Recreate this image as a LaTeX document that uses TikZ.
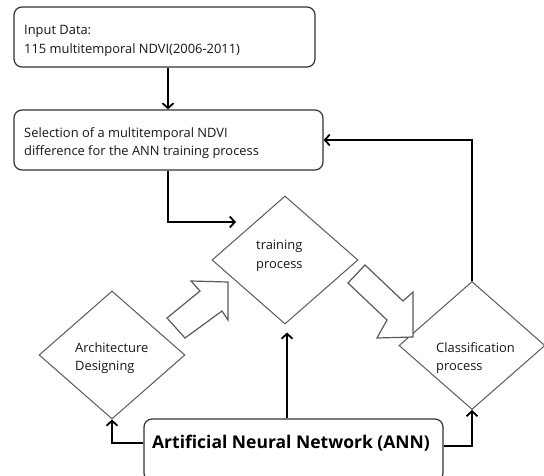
\documentclass[tikz,border=0pt]{standalone}
\usepackage{fontspec}
\setmainfont{Open Sans}
\usetikzlibrary{shapes.geometric,arrows.meta}
\definecolor{ink}{RGB}{22,22,36}
\definecolor{edge}{RGB}{50,50,50}
\definecolor{dedge}{RGB}{90,90,90}
\tikzset{
  box/.style={draw=edge, line width=1.2pt, rounded corners=8pt, fill=white, inner sep=0pt},
  dia/.style={diamond, draw=dedge, line width=1pt, minimum width=146pt, minimum height=128pt, inner sep=0pt},
  txt/.style={text=ink, anchor=west, align=left, inner sep=0pt, font=\fontsize{12.9}{18.5}\selectfont},
  bigtxt/.style={text=black, inner sep=0pt, font=\fontsize{17.5}{20}\selectfont\bfseries},
  conn/.style={draw=black, line width=2.2pt, -{Straight Barb[length=5pt,width=11pt,line width=1.8pt]}},
  blk/.style={draw=dedge, line width=1.2pt, fill=white, line join=miter}
}
\begin{document}
\begin{tikzpicture}[x=1pt,y=-1pt]
  \useasboundingbox (0,0) rectangle (544,475);
  \clip (0,0) rectangle (544,475);

  % rounded process boxes
  \node[box, minimum width=301pt, minimum height=60pt] (inp) at (164.5,37) {};
  \node[txt] (inptxt) at (24,41) {Input Data:\\115 multitemporal NDVI(2006-2011)};

  \node[box, minimum width=309pt, minimum height=60pt] (sel) at (168.5,140) {};
  \node[txt] (seltxt) at (24,143) {Selection of a multitemporal NDVI\\difference for the ANN training process};

  \node[box, minimum width=299pt, minimum height=62pt] (ann) at (293.5,450) {};
  \node[bigtxt] (anntxt) at (291,443) {Artificial Neural Network (ANN)};

  % decision diamonds
  \node[dia] (train) at (285,260) {};
  \node[txt] (traintxt) at (256,256) {training\\process};

  \node[dia] (arch) at (112,355) {};
  \node[txt] (archtxt) at (75,358) {Architecture\\Designing};

  \node[dia] (cls) at (472,345.5) {};
  \node[txt] (clstxt) at (436,358) {Classification\\process};

  % connectors
  \coordinate (tin) at (236,222);
  \draw[conn] ([xshift=3.5pt]inp.south) -- ([xshift=3.5pt]inp.south |- sel.north);
  \draw[conn] ([xshift=-0.5pt]sel.south) |- (tin);
  \draw[conn, shorten >=8pt] ([xshift=2pt]ann.north -| train.south) -- ([xshift=2pt]train.south);
  \draw[conn] ([yshift=7pt]ann.west) -| (arch.south);
  \draw[conn] ([yshift=4pt]ann.east) -| (cls.south);
  \draw[conn] (cls.north) |- (sel.east);

  % hollow block arrows
  \draw[blk] (191,281) -- (228,282) -- (228,320) -- (222,311) -- (185,338) -- (167,318) -- (200,291) -- cycle;
  \draw[blk] (365,265) -- (348,283) -- (387,320) -- (377,338) -- (413,337) -- (413,292) -- (403,301) -- cycle;
\end{tikzpicture}
\end{document}
